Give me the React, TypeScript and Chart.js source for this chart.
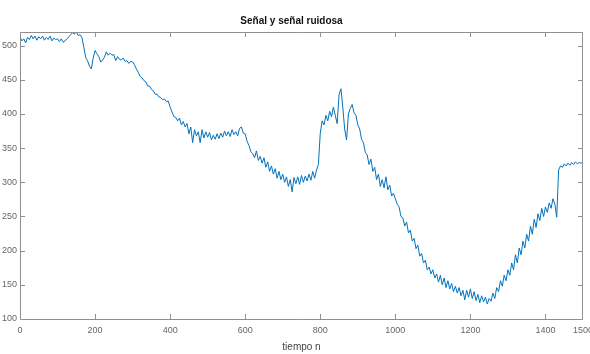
import React, { useEffect, useRef } from "react";
import { Chart, registerables } from "chart.js";

Chart.register(...registerables);

const chartTitle = "Señal y señal ruidosa";
const xAxisTitle = "tiempo n";
const sampleStep = 5;
const xTickValues = [0, 200, 400, 600, 800, 1000, 1200, 1400, 1500];
const yTickValues = [100, 150, 200, 250, 300, 350, 400, 450, 500];

// noisy signal values, one every 5 samples (n = 0 .. 1500)
const signal0 = [513, 507, 510, 504, 512, 509, 515, 510, 514, 508, 513, 510, 514, 508, 512, 509, 514, 507, 511, 509];
const signal1 = [510, 506, 510, 505, 507, 510, 513, 516, 519, 517, 520, 515, 516, 512, 498, 483, 478, 470, 466, 482];
const signal2 = [493, 488, 484, 476, 479, 483, 491, 486, 489, 486, 487, 478, 484, 480, 479, 482, 477, 478, 474, 477];
const signal3 = [476, 472, 466, 461, 455, 453, 449, 447, 441, 441, 436, 434, 429, 429, 425, 424, 421, 422, 418, 419];
const signal4 = [410, 403, 396, 395, 390, 394, 384, 389, 381, 386, 371, 381, 358, 377, 368, 374, 358, 377, 365, 374];
const signal5 = [366, 373, 362, 369, 363, 371, 364, 372, 366, 375, 368, 374, 367, 377, 370, 374, 368, 379, 381, 372];
const signal6 = [371, 360, 354, 345, 342, 336, 346, 332, 338, 328, 336, 322, 330, 316, 324, 312, 320, 306, 316, 304];
const signal7 = [312, 300, 308, 294, 304, 286, 307, 298, 308, 297, 310, 300, 309, 302, 312, 303, 316, 306, 318, 326];
const signal8 = [372, 390, 384, 398, 390, 404, 396, 410, 398, 386, 428, 437, 410, 378, 362, 400, 408, 414, 402, 398];
const signal9 = [384, 378, 363, 358, 344, 340, 326, 334, 316, 322, 304, 312, 294, 304, 292, 308, 289, 296, 280, 284];
const signal10 = [276, 268, 264, 250, 248, 236, 242, 226, 230, 214, 218, 203, 208, 192, 196, 182, 186, 172, 176, 166];
const signal11 = [172, 160, 166, 154, 164, 150, 160, 146, 156, 144, 152, 140, 148, 138, 146, 134, 142, 128, 142, 132];
const signal12 = [144, 130, 140, 127, 136, 124, 134, 125, 132, 122, 130, 126, 138, 130, 146, 140, 156, 148, 164, 156];
const signal13 = [172, 164, 182, 172, 194, 182, 204, 194, 214, 204, 224, 214, 236, 224, 246, 234, 254, 244, 262, 250];
const signal14 = [264, 256, 270, 262, 276, 268, 249, 318, 324, 322, 327, 324, 328, 325, 329, 326, 330, 327, 329, 328];
const signal15 = [330];

const signalValues = [
  ...signal0, ...signal1, ...signal2, ...signal3, ...signal4, ...signal5, ...signal6, ...signal7,
  ...signal8, ...signal9, ...signal10, ...signal11, ...signal12, ...signal13, ...signal14, ...signal15,
];

const FONT = "'Liberation Sans Narrow', 'Liberation Sans', Arial, sans-serif";
const AXIS_COLOR = "#8f8f8f";

const framePlugin = {
  id: "matlabFrame",
  afterDraw(chart: any) {
    const { ctx, chartArea } = chart;
    const { left, right, top, bottom } = chartArea;
    ctx.save();
    ctx.strokeStyle = AXIS_COLOR;
    ctx.lineWidth = 1;
    ctx.beginPath();
    ctx.rect(Math.round(left) + 0.5, Math.round(top) + 0.5, Math.round(right - left) - 1, Math.round(bottom - top));
    const xs = chart.scales.x;
    const ys = chart.scales.y;
    const tl = 5;
    xs.ticks.forEach((t: any) => {
      const px = Math.round(xs.getPixelForValue(t.value)) + 0.5;
      if (px <= left + 1 || px >= right - 1) return;
      ctx.moveTo(px, bottom);
      ctx.lineTo(px, bottom - tl);
      ctx.moveTo(px, top);
      ctx.lineTo(px, top + tl);
    });
    ys.ticks.forEach((t: any) => {
      const py = Math.round(ys.getPixelForValue(t.value)) + 0.5;
      if (py <= top + 1 || py >= bottom - 1) return;
      ctx.moveTo(left, py);
      ctx.lineTo(left + tl, py);
      ctx.moveTo(right, py);
      ctx.lineTo(right - tl, py);
    });
    ctx.stroke();
    ctx.restore();
  },
};

export default function App() {
  const canvasRef = useRef<HTMLCanvasElement | null>(null);

  useEffect(() => {
    document.body.style.margin = "0";
    const canvas = canvasRef.current;
    if (!canvas) return;
    const points = signalValues.map((v, i) => ({ x: i * sampleStep, y: v }));
    const chart = new Chart(canvas, {
      type: "line",
      data: {
        datasets: [
          {
            data: points,
            borderColor: "#0072BD",
            borderWidth: 1,
            pointRadius: 0,
            tension: 0,
            fill: false,
          },
        ],
      },
      options: {
        animation: false,
        responsive: false,
        maintainAspectRatio: false,
        layout: { padding: { left: 0, right: 7, top: 0, bottom: 0 } },
        plugins: {
          legend: { display: false },
          tooltip: { enabled: false },
          title: {
            display: true,
            text: chartTitle,
            color: "#111",
            font: { family: FONT, size: 10, weight: "bold" },
            padding: { top: 15, bottom: 5 },
          },
        },
        scales: {
          x: {
            type: "linear",
            min: 0,
            max: 1500,
            afterBuildTicks(scale: any) {
              scale.ticks = xTickValues.map((v) => ({ value: v }));
            },
            afterFit(scale: any) {
              scale.height = 35;
              scale.paddingLeft = 0;
              scale.paddingRight = 0;
            },
            grid: { display: false, drawTicks: false },
            border: { display: false },
            ticks: {
              color: "#666",
              font: { family: FONT, size: 9 },
              padding: 6,
              maxRotation: 0,
              autoSkip: false,
              callback: (v: any) => String(v),
            },
            title: {
              display: true,
              text: xAxisTitle,
              color: "#444",
              font: { family: FONT, size: 10 },
              padding: { top: 0, bottom: 1 },
            },
          },
          y: {
            type: "linear",
            min: 100,
            max: 520,
            afterBuildTicks(scale: any) {
              scale.ticks = yTickValues.map((v) => ({ value: v }));
            },
            afterFit(scale: any) {
              scale.width = 20;
              scale.paddingTop = 0;
              scale.paddingBottom = 0;
            },
            grid: { display: false, drawTicks: false },
            border: { display: false },
            ticks: {
              color: "#666",
              font: { family: FONT, size: 9 },
              padding: 3,
              autoSkip: false,
              callback: (v: any) => String(v),
            },
          },
        },
      },
      plugins: [framePlugin],
    });
    return () => chart.destroy();
  }, []);

  return (
    <div style={{ position: "fixed", left: 0, top: 0, width: 590, height: 354, background: "#fff" }}>
      <canvas ref={canvasRef} width={590} height={354} style={{ width: 590, height: 354 }} />
    </div>
  );
}
